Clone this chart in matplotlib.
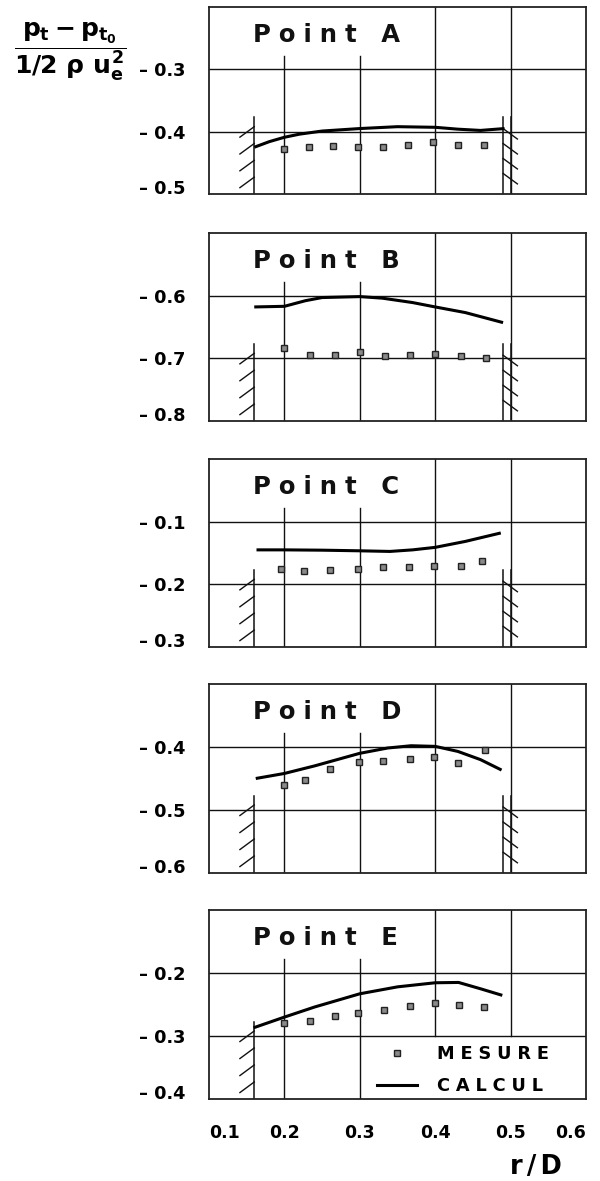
import matplotlib
matplotlib.use("Agg")
import matplotlib.pyplot as plt
from matplotlib.lines import Line2D

plt.rcParams['font.family'] = ['DejaVu Sans']
plt.rcParams['font.weight'] = 'bold'
plt.rcParams['mathtext.fontset'] = 'custom'
plt.rcParams['mathtext.rm'] = 'DejaVu Sans:bold'
plt.rcParams['mathtext.it'] = 'DejaVu Sans:bold'
plt.rcParams['mathtext.bf'] = 'DejaVu Sans:bold'

# ---------------- data ----------------
panel_names = ["A", "B", "C", "D", "E"]

mesA_x = [0.200, 0.232, 0.265, 0.298, 0.331, 0.364, 0.397, 0.430, 0.465]
mesA_y = [-0.428, -0.424, -0.423, -0.424, -0.425, -0.422, -0.417, -0.422, -0.422]
calA_x = [0.160, 0.180, 0.200, 0.220, 0.250, 0.300, 0.350, 0.400, 0.430, 0.460, 0.492]
calA_y = [-0.425, -0.416, -0.409, -0.404, -0.399, -0.395, -0.392, -0.393, -0.396, -0.398, -0.395]

mesB_x = [0.200, 0.234, 0.267, 0.300, 0.333, 0.367, 0.400, 0.434, 0.467]
mesB_y = [-0.684, -0.695, -0.695, -0.690, -0.696, -0.695, -0.693, -0.696, -0.700]
calB_x = [0.160, 0.200, 0.228, 0.250, 0.300, 0.330, 0.370, 0.400, 0.440, 0.490]
calB_y = [-0.618, -0.617, -0.608, -0.603, -0.6015, -0.604, -0.611, -0.618, -0.627, -0.643]

mesC_x = [0.195, 0.226, 0.260, 0.298, 0.331, 0.365, 0.399, 0.434, 0.462]
mesC_y = [-0.176, -0.179, -0.177, -0.176, -0.173, -0.172, -0.170, -0.171, -0.163]
calC_x = [0.163, 0.200, 0.250, 0.300, 0.340, 0.370, 0.400, 0.440, 0.487]
calC_y = [-0.145, -0.145, -0.1455, -0.1465, -0.1475, -0.145, -0.141, -0.1315, -0.118]

mesD_x = [0.200, 0.227, 0.260, 0.299, 0.331, 0.367, 0.399, 0.430, 0.466]
mesD_y = [-0.460, -0.453, -0.435, -0.424, -0.423, -0.419, -0.416, -0.426, -0.404]
calD_x = [0.162, 0.200, 0.240, 0.300, 0.337, 0.368, 0.400, 0.430, 0.460, 0.488]
calD_y = [-0.450, -0.442, -0.430, -0.410, -0.4016, -0.398, -0.399, -0.407, -0.420, -0.4366]

mesE_x = [0.200, 0.234, 0.267, 0.298, 0.332, 0.367, 0.400, 0.432, 0.465]
mesE_y = [-0.280, -0.276, -0.269, -0.264, -0.258, -0.253, -0.247, -0.251, -0.254]
calE_x = [0.159, 0.200, 0.240, 0.300, 0.350, 0.400, 0.431, 0.460, 0.489]
calE_y = [-0.287, -0.270, -0.254, -0.233, -0.222, -0.2155, -0.215, -0.225, -0.2355]

mes_x = [mesA_x, mesB_x, mesC_x, mesD_x, mesE_x]
mes_y = [mesA_y, mesB_y, mesC_y, mesD_y, mesE_y]
cal_x = [calA_x, calB_x, calC_x, calD_x, calE_x]
cal_y = [calA_y, calB_y, calC_y, calD_y, calE_y]

ylims = [(-0.5, -0.2), (-0.8, -0.5), (-0.3, 0.0), (-0.6, -0.3), (-0.4, -0.1)]
yticks = [[-0.5, -0.4, -0.3], [-0.8, -0.7, -0.6], [-0.3, -0.2, -0.1],
          [-0.6, -0.5, -0.4], [-0.4, -0.3, -0.2]]
ytick_labels = [["\u2013 0.5", "\u2013 0.4", "\u2013 0.3"],
                ["\u2013 0.8", "\u2013 0.7", "\u2013 0.6"],
                ["\u2013 0.3", "\u2013 0.2", "\u2013 0.1"],
                ["\u2013 0.6", "\u2013 0.5", "\u2013 0.4"],
                ["\u2013 0.4", "\u2013 0.3", "\u2013 0.2"]]
xticks = [0.1, 0.2, 0.3, 0.4, 0.5, 0.6]
xtick_labels = ["0.1", "0.2", "0.3", "0.4", "0.5", "0.6"]
grid_x = [0.2, 0.3, 0.4, 0.5]
wall_left = 0.16
wall_right = [0.49, 0.50]

# ---------------- layout ----------------
W, H = 600, 1181
fig = plt.figure(figsize=(W / 100, H / 100), dpi=100)
fig.patch.set_facecolor("white")
panels_px = [(7, 194), (233, 421), (459, 647), (684, 873), (910, 1099)]
left_px, right_px = 209, 586

S3 = "\u2004"  # three-per-em space (letter spacing)


def spaced(word):
    return S3.join(word)


hatch_fr = [0.36, 0.27, 0.18, 0.09]
hatch_fr_r = [0.35, 0.27, 0.19, 0.11]
hdx = 0.019
hdy = 0.056
lw_grid = 1.0
line_col = "#111111"

axes = []
for i, (top, bot) in enumerate(panels_px):
    ax = fig.add_axes([left_px / W, 1 - bot / H, (right_px - left_px) / W, (bot - top) / H])
    axes.append(ax)
    ax.set_xlim(0.1, 0.6)
    ax.set_ylim(*ylims[i])
    for s in ax.spines.values():
        s.set_linewidth(1.3)
        s.set_color("#222222")
    tr = ax.get_xaxis_transform()

    # horizontal grid lines (interior ticks)
    for yv in yticks[i][1:]:
        ax.axhline(yv, color=line_col, lw=lw_grid, zorder=1)

    # vertical grid lines
    last = (i == len(panels_px) - 1)
    for gx in grid_x:
        if gx <= 0.3:
            ax.axvline(gx, ymin=0, ymax=0.74, color=line_col, lw=lw_grid, zorder=1)
        else:
            ax.axvline(gx, ymin=(1 / 3 if last else 0), ymax=1, color=line_col, lw=lw_grid, zorder=1)

    # walls
    ax.axvline(wall_left, ymin=0, ymax=0.41, color=line_col, lw=1.1, zorder=2)
    for f in hatch_fr:
        ax.plot([wall_left - hdx, wall_left], [f - hdy, f], transform=tr,
                color=line_col, lw=1.0, zorder=2)
    if not last:
        for wx in wall_right:
            ax.axvline(wx, ymin=0, ymax=0.41, color=line_col, lw=1.1, zorder=2)
        for f in hatch_fr_r:
            ax.plot([wall_right[0], wall_right[0] + hdx], [f, f - hdy], transform=tr,
                    color=line_col, lw=1.0, zorder=2)

    # data
    ax.plot(cal_x[i], cal_y[i], color="black", lw=2.2, zorder=4, solid_capstyle="butt")
    ax.plot(mes_x[i], mes_y[i], linestyle="none", marker="s", markersize=4.4,
            markerfacecolor="#8a8a8a", markeredgecolor="#222222", markeredgewidth=1.0, zorder=5)

    # title
    title = spaced("Point") + " \u2002\u2006" + panel_names[i]
    ax.text(0.118, 0.85, title, transform=ax.transAxes, fontsize=17.5,
            fontweight="bold", ha="left", va="center", color="#111111")

    # ticks
    ax.set_yticks(yticks[i])
    ax.set_yticklabels(ytick_labels[i], fontsize=12.8, fontweight="bold")
    ax.tick_params(axis="y", length=0, pad=17)
    ylabs = ax.get_yticklabels()
    ylabs[0].set_va("baseline")
    if last:
        ax.set_xticks(xticks)
        ax.set_xticklabels(xtick_labels, fontsize=12.5, fontweight="bold")
        ax.tick_params(axis="x", length=0, pad=18)
        xl = ax.get_xticklabels()
        xl[0].set_ha("left")
        xl[-1].set_ha("right")
    else:
        ax.set_xticks([])

# legend in last panel
axE = axes[-1]
h_mes = Line2D([], [], linestyle="none", marker="s", markersize=4.4,
               markerfacecolor="#8a8a8a", markeredgecolor="#222222", markeredgewidth=1.0)
h_cal = Line2D([], [], color="black", lw=2.2)
axE.legend([h_mes, h_cal], [spaced("MESURE"), spaced("CALCUL")],
           loc="upper left", bbox_to_anchor=(0.446, 0.285), frameon=False,
           borderpad=0, borderaxespad=0, handlelength=2.25, handletextpad=1.1,
           labelspacing=0.8, prop={"size": 12.8, "weight": "bold"})

# x axis label
fig.text(536 / W, 1 - 1167 / H, "r\u2006/\u2006D", fontsize=18.5, fontweight="bold",
         ha="center", va="center")

# y axis label (fraction)
fig.text(70 / W, 1 - 52 / H, r"$\dfrac{p_t - p_{t_0}}{1/2\ \rho\ u_e^{2}}$",
         fontsize=18, ha="center", va="center")

fig.savefig("out.png", dpi=100, facecolor="white")
